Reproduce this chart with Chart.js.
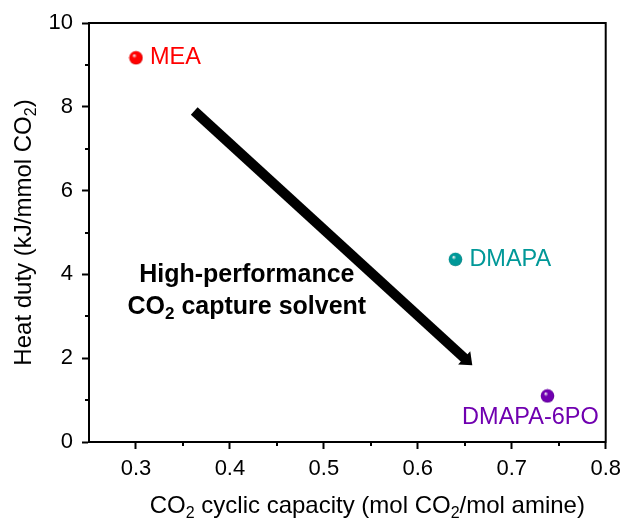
<!DOCTYPE html>
<html>
<head>
<meta charset="utf-8">
<script src="https://cdn.jsdelivr.net/npm/chart.js@4"></script>
<style>
  html, body { margin: 0; padding: 0; background: #fff; }
  #wrap { width: 628px; height: 523px; }
</style>
</head>
<body>
<div id="wrap"><canvas id="chart" width="628" height="523"></canvas></div>
<script>
const solventNames = ['MEA', 'DMAPA', 'DMAPA-6PO'];
const cyclicCapacity = [0.30, 0.64, 0.738];
const heatDuty = [9.17, 4.36, 1.10];
const solventColors = ['#ff0000', '#009898', '#7000b0'];

const xTickValues = [0.3, 0.4, 0.5, 0.6, 0.7, 0.8];
const xMinorValues = [0.35, 0.45, 0.55, 0.65, 0.75];
const yTickValues = [0, 2, 4, 6, 8, 10];
const yMinorValues = [1, 3, 5, 7, 9];

// arrow from / to, in data units
const arrowFrom = [0.362, 7.9];
const arrowTo = [0.658, 1.83];
const noteAt = [0.418, 3.6];

const FONT = '"Liberation Sans", Arial, sans-serif';

// label offsets (px) relative to each point
const labelStyle = [
  { dx: 14, dy: 0, align: 'left' },
  { dx: 14, dy: 0, align: 'left' },
  { dx: -17, dy: 22, align: 'center' },
];

function sphere(color) {
  const r = 6.8;
  const c = document.createElement('canvas');
  c.width = c.height = 15;
  const g = c.getContext('2d');
  const grad = g.createRadialGradient(5.5, 5, 0.3, 7.5, 7.5, r);
  grad.addColorStop(0, '#f4f4f4');
  grad.addColorStop(0.3, color);
  grad.addColorStop(0.85, color);
  grad.addColorStop(1, shade(color));
  g.fillStyle = grad;
  g.beginPath();
  g.arc(7.5, 7.5, r, 0, Math.PI * 2);
  g.fill();
  return c;
}

function shade(hex) {
  const n = parseInt(hex.slice(1), 16);
  const f = (v) => Math.round(v * 0.8);
  return `rgb(${f(n >> 16)},${f((n >> 8) & 255)},${f(n & 255)})`;
}

// text with subscripts: parts = [[text, isSub], ...]
function drawRich(ctx, parts, x, y, size, weight) {
  const big = `${weight} ${size}px ${FONT}`;
  const small = `${weight} ${Math.round(size * 0.68)}px ${FONT}`;
  let total = 0;
  parts.forEach(([t, sub]) => { ctx.font = sub ? small : big; total += ctx.measureText(t).width; });
  let cx = x - total / 2;
  ctx.textBaseline = 'middle';
  ctx.textAlign = 'left';
  parts.forEach(([t, sub]) => {
    ctx.font = sub ? small : big;
    ctx.fillText(t, cx, sub ? y + size * 0.3 : y);
    cx += ctx.measureText(t).width;
  });
}

const decorations = {
  id: 'decorations',
  afterDraw(chart) {
    const { ctx, chartArea: a, scales: { x, y } } = chart;
    ctx.save();
    ctx.strokeStyle = '#000';
    ctx.fillStyle = '#000';
    ctx.lineWidth = 2;
    ctx.strokeRect(a.left, a.top, a.right - a.left, a.bottom - a.top);

    // minor ticks
    ctx.beginPath();
    xMinorValues.forEach((v) => {
      const px = Math.round(x.getPixelForValue(v));
      ctx.moveTo(px, a.bottom); ctx.lineTo(px, a.bottom + 4);
    });
    yMinorValues.forEach((v) => {
      const py = Math.round(y.getPixelForValue(v));
      ctx.moveTo(a.left, py); ctx.lineTo(a.left - 4, py);
    });
    ctx.stroke();

    // arrow
    const x0 = x.getPixelForValue(arrowFrom[0]), y0 = y.getPixelForValue(arrowFrom[1]);
    const x1 = x.getPixelForValue(arrowTo[0]), y1 = y.getPixelForValue(arrowTo[1]);
    const len = Math.hypot(x1 - x0, y1 - y0);
    const ux = (x1 - x0) / len, uy = (y1 - y0) / len;
    const headL = 11, headW = 9;
    ctx.lineWidth = 10;
    ctx.beginPath();
    ctx.moveTo(x0, y0);
    ctx.lineTo(x1 - ux * (headL - 1), y1 - uy * (headL - 1));
    ctx.stroke();
    ctx.beginPath();
    ctx.moveTo(x1, y1);
    ctx.lineTo(x1 - ux * headL - uy * headW, y1 - uy * headL + ux * headW);
    ctx.lineTo(x1 - ux * headL + uy * headW, y1 - uy * headL - ux * headW);
    ctx.closePath();
    ctx.fill();

    // note
    const nx = x.getPixelForValue(noteAt[0]), ny = y.getPixelForValue(noteAt[1]);
    drawRich(ctx, [['High-performance', 0]], nx, ny - 16, 25, 'bold');
    drawRich(ctx, [['CO', 0], ['2', 1], [' capture solvent', 0]], nx, ny + 16, 25, 'bold');

    // point labels
    const meta = chart.getDatasetMeta(0);
    meta.data.forEach((pt, i) => {
      const s = labelStyle[i];
      ctx.fillStyle = solventColors[i];
      ctx.font = `23.5px ${FONT}`;
      ctx.textAlign = s.align;
      ctx.textBaseline = 'middle';
      ctx.fillText(solventNames[i], pt.x + s.dx, pt.y + s.dy);
    });

    // axis titles
    ctx.fillStyle = '#000';
    drawRich(ctx, [['CO', 0], ['2', 1], [' cyclic capacity (mol CO', 0], ['2', 1], ['/mol amine)', 0]],
      (a.left + a.right) / 2 + 20, 506, 24, 'normal');
    ctx.translate(24, (a.top + a.bottom) / 2);
    ctx.rotate(-Math.PI / 2);
    drawRich(ctx, [['Heat duty (kJ/mmol CO', 0], ['2', 1], [')', 0]], 0, 0, 24, 'normal');
    ctx.restore();
  },
};

new Chart(document.getElementById('chart'), {
  type: 'scatter',
  data: {
    datasets: [{
      data: cyclicCapacity.map((v, i) => ({ x: v, y: heatDuty[i] })),
      pointStyle: solventColors.map(sphere),
      pointRadius: 7,
      pointHoverRadius: 7,
    }],
  },
  options: {
    responsive: false,
    animation: false,
    events: [],
    layout: { padding: { top: 23, right: 18, left: 0, bottom: 0 } },
    plugins: { legend: { display: false }, tooltip: { enabled: false } },
    scales: {
      x: {
        type: 'linear',
        min: 0.25,
        max: 0.8,
        afterBuildTicks: (s) => { s.ticks = xTickValues.map((v) => ({ value: v })); },
        afterFit: (s) => { s.height = 81; },
        ticks: {
          color: '#000', padding: 7, autoSkip: false, maxRotation: 0,
          font: { family: FONT, size: 22 },
          callback: (v) => v.toFixed(1),
        },
        grid: { drawOnChartArea: false, tickLength: 7, tickColor: '#000', tickWidth: 2 },
        border: { color: '#000', width: 2 },
      },
      y: {
        type: 'linear',
        min: 0,
        max: 10,
        afterBuildTicks: (s) => { s.ticks = yTickValues.map((v) => ({ value: v })); },
        afterFit: (s) => { s.width = 89; },
        ticks: {
          color: '#000', padding: 9,
          font: { family: FONT, size: 22 },
        },
        grid: { drawOnChartArea: false, tickLength: 7, tickColor: '#000', tickWidth: 2 },
        border: { color: '#000', width: 2 },
      },
    },
  },
  plugins: [decorations],
});
</script>
</body>
</html>
